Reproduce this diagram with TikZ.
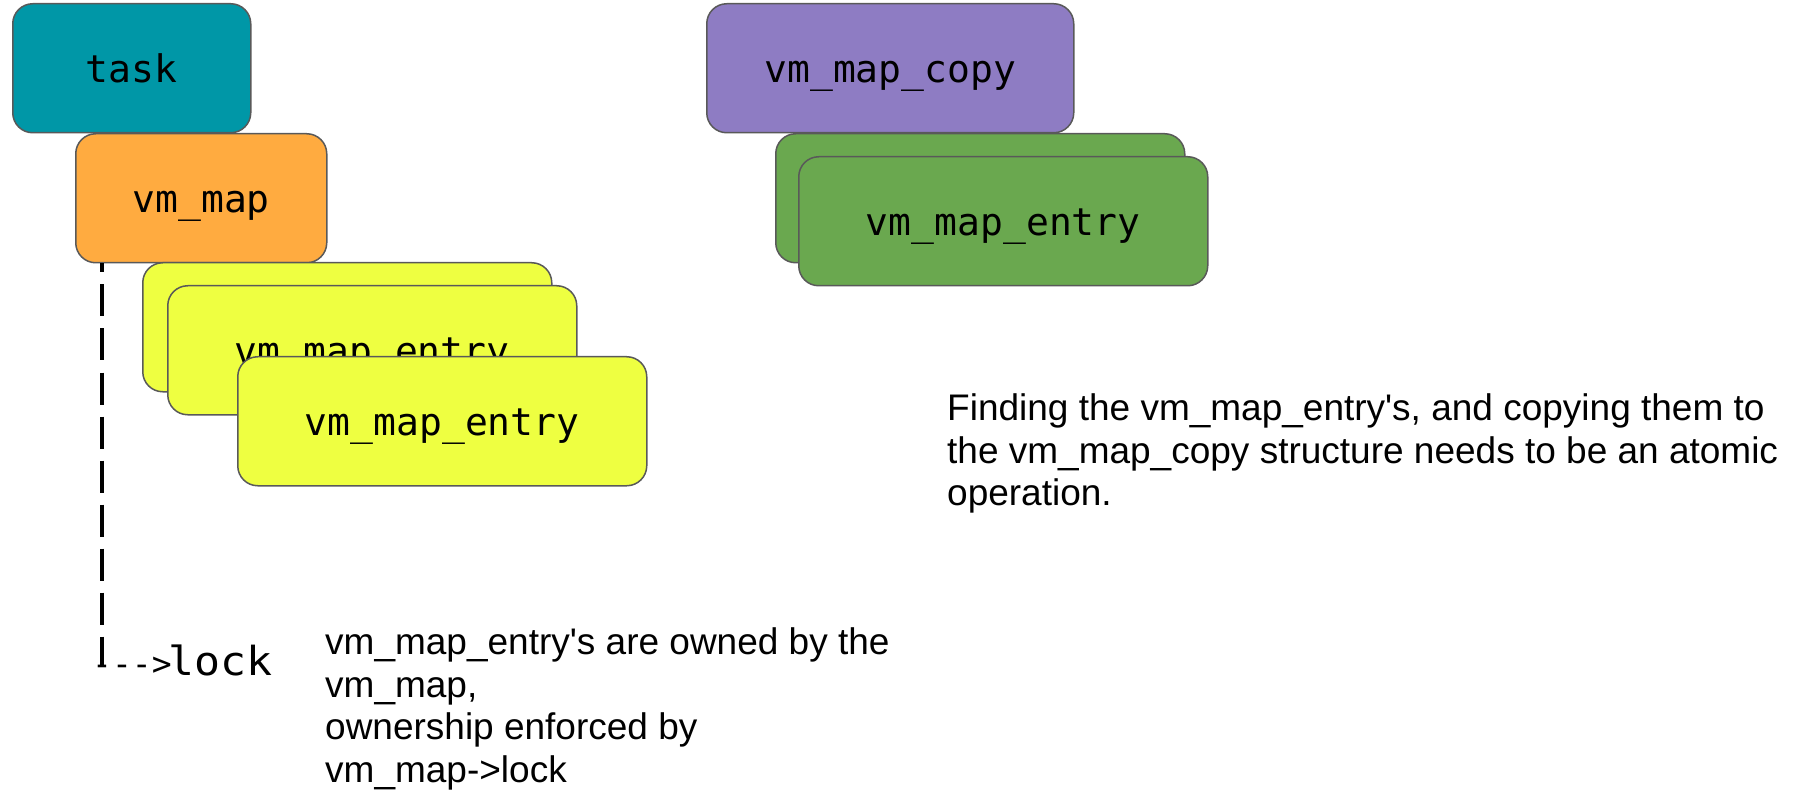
\documentclass[tikz,border=0pt]{standalone}
\usepackage{fontspec}
\setmainfont{Liberation Sans}
\setmonofont{DejaVu Sans Mono}
\usetikzlibrary{positioning}

\definecolor{taskfill}{HTML}{0097A7}
\definecolor{mapfill}{HTML}{FFAB40}
\definecolor{entryfill}{HTML}{EEFF41}
\definecolor{copyfill}{HTML}{8E7CC3}
\definecolor{copyentryfill}{HTML}{6AA84F}
\definecolor{boxline}{HTML}{595959}

\begin{document}
\begin{tikzpicture}[x=1pt,y=-1pt,
  box/.style={
   draw=boxline,
   line width=1.5pt,
   rounded corners=20pt,
   anchor=north west,
   inner sep=0pt,
   minimum height=129pt,
   text height=30pt,
   text depth=1.5pt,
   font=\fontsize{38}{46}\selectfont\ttfamily
  },
  entry/.style={
   box,
   fill=entryfill,
   minimum width=409pt
  },
  copyentry/.style={
   box,
   fill=copyentryfill,
   minimum width=409pt
  },
  note/.style={
   align=left,
   inner sep=0pt,
   anchor=north west,
   font=\fontsize{37}{42.5}\selectfont
  },
  lockline/.style={
   line width=4pt,
   dash pattern=on 32pt off 12pt,
   dash phase=23pt
  }]
  \useasboundingbox (0,0) rectangle (1801,791);

  % owner side
  \node[box,fill=taskfill,minimum width=238pt] at (12,3)
    (task) {task};
  \node[box,fill=mapfill,minimum width=251pt] at (75,133)
    (vmmap) {vm\_map};
  \node[entry] at (142,262) (ent1) {vm\_map\_entry};
  \node[entry] at (167,285) (ent2) {vm\_map\_entry};
  \node[entry] at (237,356) (ent3) {vm\_map\_entry};

  % copy side
  \node[box,fill=copyfill,minimum width=367pt] at (706,3)
    (copy) {vm\_map\_copy};
  \node[copyentry] at (775,133) (gent1) {vm\_map\_entry};
  \node[copyentry] at (798,156) (gent2) {vm\_map\_entry};

  % lock of the map
  \coordinate (lockfoot) at (101.7,665);
  \node[anchor=base west,inner sep=0pt,
    font=\fontsize{33}{40}\selectfont\ttfamily] at (92,675)
    (lock) {{-}{-}{-}>\kern-3pt{\fontsize{40}{46}\selectfont
      \addfontfeature{FakeStretch=1.08}lock}};
  \draw[lockline] (vmmap.south west -| lockfoot) -- (lockfoot);

  \node[note] at (325,627.5) (owned)
    {vm\_map\_entry\textquotesingle s are owned by the\\
     vm\_map,\\
     ownership enforced by\\
     vm\_map->lock};
  \node[note] at (947,393.5) (atomic)
    {Finding the vm\_map\_entry\textquotesingle s, and copying them to\\
     the vm\_map\_copy structure needs to be an atomic\\
     operation.};
\end{tikzpicture}
\end{document}
